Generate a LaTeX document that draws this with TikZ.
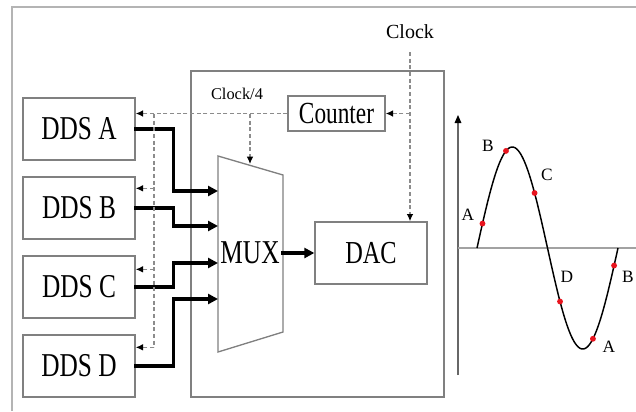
\documentclass[tikz,border=0pt]{standalone}
\usepackage{fontspec}
\setmainfont{Liberation Serif}
\newfontfamily\condfont{Liberation Serif}[FakeStretch=0.76]
\usepackage{tikz}
\usetikzlibrary{arrows.meta,calc}
\usepackage{xcolor}
\definecolor{framec}{HTML}{B4B4B4}
\definecolor{boxc}{HTML}{808080}
\definecolor{dashc}{HTML}{8C8C8C}
\definecolor{dotc}{HTML}{E8141E}

\begin{document}
\begin{tikzpicture}[x=0.75pt,y=-0.75pt,
    block/.style={draw=boxc, line width=1pt, inner sep=0pt,
      minimum width=84pt, minimum height=46.5pt,
      font=\condfont\fontsize{25}{25}\selectfont},
    clk/.style={draw=dashc, line width=1pt, dash pattern=on 3pt off 2pt,
      -{Latex[color=black,length=5.5pt,width=5pt]}},
    bus/.style={line width=2.3pt, line cap=rect,
      -{Triangle[length=7.5pt,width=7.5pt]}},
    tag/.style={inner sep=1pt, font=\fontsize{13}{13}\selectfont},
    reddot/.style={fill=dotc}]
  \useasboundingbox (0,0) rectangle (636,411);

  % ==========================================================
  %                     FRAME + BOARD
  % ==========================================================
  \draw[framec, line width=1.5pt] (12,411) -- (12,7) -- (636,7);
  \draw[boxc, line width=1pt] (191,71) rectangle (444,397);

  % ==========================================================
  %                     BLOCKS
  % ==========================================================
  \node[block] (ddsA) at (79,129) {DDS A};
  \node[block] (ddsB) at (79,208) {DDS B};
  \node[block] (ddsC) at (79,287) {DDS C};
  \node[block] (ddsD) at (79,366) {DDS D};
  \node[block, minimum width=72.75pt, minimum height=26.25pt,
        font=\condfont\fontsize{23}{23}\selectfont] (counter) at (336.5,113.5) {Counter};
  \node[block, font=\condfont\fontsize{24}{24}\selectfont] (dac) at (371,253) {DAC};

  % multiplexer (trapezoid)
  \coordinate (muxTL) at (218,156);
  \coordinate (muxTR) at (283,175);
  \coordinate (muxBR) at (283,332);
  \coordinate (muxBL) at (218,352);
  \draw[boxc, line width=1pt] (muxTL) -- (muxTR) -- (muxBR) -- (muxBL) -- cycle;
  \node[inner sep=0pt, font=\condfont\fontsize{25}{25}\selectfont] (mux) at (250,253) {MUX};
  \coordinate (in1) at (218,191);
  \coordinate (in2) at (218,226);
  \coordinate (in3) at (218,263);
  \coordinate (in4) at (218,299);
  \coordinate (muxOut) at (283,253);

  % ==========================================================
  %                     DATA PATHS
  % ==========================================================
  \draw[bus] (ddsA.east) -- ++(38,0) |- (in1);
  \draw[bus] (ddsB.east) -- ++(38,0) |- (in2);
  \draw[bus] (ddsC.east) -- ++(38,0) |- (in3);
  \draw[bus] (ddsD.east) -- ++(38,0) |- (in4);
  \draw[bus] (muxOut) -- (dac.west);

  % ==========================================================
  %                     CLOCK PATHS
  % ==========================================================
  \node[inner sep=1pt, font=\fontsize{15}{15}\selectfont] (clock) at (410,32) {Clock};
  \node[inner sep=1pt, font=\fontsize{12.3}{12.3}\selectfont] (clkdiv) at (237,94) {Clock/4};
  \coordinate (clkTop) at (410,52);
  \coordinate (busTop) at (154,114);
  \coordinate (selTop) at (250,114);
  \coordinate (selEnd) at (250,164);
  \coordinate (tapB) at ($(ddsB.north east)+(0,12)$);
  \coordinate (tapC) at ($(ddsC.north east)+(0,14)$);
  \coordinate (tapD) at ($(ddsD.north east)+(0,13)$);

  \draw[clk] (clkTop) -- (clkTop |- dac.north);
  \draw[clk] (clkTop |- counter.east) -- (counter.east);
  \draw[clk] (counter.west) -- (ddsA.east |- counter.west);
  \draw[clk] (selTop) -- (selEnd);
  \draw[clk, -] (busTop) -- (busTop |- tapD);
  \draw[clk] (busTop |- tapB) -- (tapB);
  \draw[clk] (busTop |- tapC) -- (tapC);
  \draw[clk] (busTop |- tapD) -- (tapD);

  % ==========================================================
  %                     WAVEFORM
  % ==========================================================
  \def\xZero{477}   % start of the period (px)
  \def\xSpan{141}   % one period (px)
  \def\yAxis{248}   % zero line (px)
  \def\amp{101}     % amplitude (px)

  \draw[boxc!80!black, line width=0.8pt, -{Triangle[color=black,length=6pt,width=5pt]}]
    (458,375) -- (458,115);
  \draw[framec!90!black, line width=1.2pt] (458,\yAxis) -- (636,\yAxis);
  \draw[line width=1.1pt] plot[domain=0:360, samples=120, variable=\t]
    ({\xZero+\xSpan*(\t/360)}, {\yAxis-\amp*sin(\t)});

  \foreach \ph/\nm in {14/a1, 74/b1, 147/c1, 212/d1, 296/a2, 350/b2} {
    \fill[reddot] ({\xZero+\xSpan*(\ph/360)}, {\yAxis-\amp*sin(\ph)}) circle (2.2pt);
  }
  \node[tag] (labA1) at (468,215) {A};
  \node[tag] (labB1) at (488,146) {B};
  \node[tag] (labC1) at (547,175) {C};
  \node[tag] (labD1) at (567,277) {D};
  \node[tag] (labA2) at (609,347) {A};
  \node[tag] (labB2) at (628,277) {B};

\end{tikzpicture}
\end{document}
